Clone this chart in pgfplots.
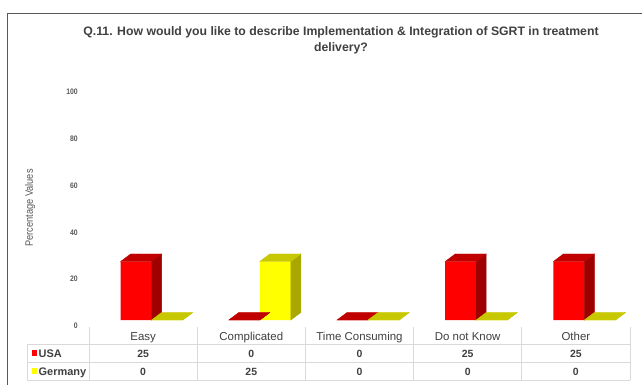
\documentclass[border=0pt]{standalone}
\usepackage{pgfplots}
\pgfplotsset{compat=1.18}
\usepackage{pgfplotstable}
\usepackage{fontspec}
\setmainfont{Liberation Sans}
\newfontfamily\narrowfont{Liberation Sans}[FakeStretch=0.86]
\definecolor{txt}{HTML}{404040}
\definecolor{axtxt}{HTML}{595959}
\definecolor{frontR}{HTML}{FF0000}
\definecolor{sideR}{HTML}{9E0000}
\definecolor{topR}{HTML}{C00000}
\definecolor{frontY}{HTML}{FFFF00}
\definecolor{sideY}{HTML}{A8A800}
\definecolor{topY}{HTML}{C8C800}
\definecolor{tbl}{HTML}{D9D9D9}
\definecolor{framec}{HTML}{595959}
\pgfplotstableread{
x usa germany
0 25 0
1 0 25
2 0 0
3 25 0
4 25 0
}\data
\pgfdeclareplotmark{blank}{}
\pgfplotsset{
  faces/.style n args={5}{% column, left, right, side colour, top colour
    scatter, only marks, mark=blank,
    visualization depends on={\thisrow{#1} \as \hval},
    scatter/@pre marker code/.code={%
      \pgfmathsetlengthmacro\hh{\hval*2.34bp}%
      \fill[#4] (#3bp,0pt) -- ++(10bp,7.5bp) -- ++(0pt,-\hh) -- ++(-10bp,-7.5bp) -- cycle;
      \fill[#5] (#2bp,0pt) -- (#3bp,0pt) -- ++(10bp,7.5bp) -- ++(-31bp,0pt) -- cycle;
    },
    scatter/@post marker code/.code={},
  },
}
\begin{document}
\begin{tikzpicture}
\useasboundingbox (0,0) rectangle (642bp,385bp);
\fill[white] (0,0) rectangle (642bp,385bp);
% frame
\draw[framec, line width=1.2bp] (7.5bp,0bp) -- (7.5bp,371.5bp) -- (642bp,371.5bp);
% title
\node[align=center, font=\bfseries\fontsize{12.3}{16}\selectfont, text=txt] at (341bp,345bp)
  {Q.11. How would you like to describe Implementation \& Integration of SGRT in treatment\\delivery?};
% y label
\node[rotate=90, font=\narrowfont\fontsize{10.8}{12}\selectfont, text=axtxt] at (30bp,177bp) {Percentage Values};
\begin{axis}[
  at={(89bp,65bp)}, anchor=south west,
  scale only axis, width=541bp, height=234bp,
  xmin=-0.5, xmax=4.5, ymin=0, ymax=100,
  axis line style={draw=none}, major tick length=0pt,
  xtick={0,...,4},
  xticklabels={Easy,Complicated,Time Consuming,Do not Know,Other},
  xticklabel style={anchor=base, yshift=-20.5bp, font=\fontsize{11.5}{13}\selectfont, text=txt},
  ytick={0,20,...,100},
  yticklabel style={anchor=east, inner sep=0pt, xshift=-11bp, yshift=-6bp,
    font=\narrowfont\bfseries\fontsize{8}{9}\selectfont, text=axtxt},
  /pgf/number format/assume math mode=true,
  clip=false,
]
\addplot[ybar, bar width=31bp, bar shift=-7bp, fill=frontR, draw=none] table[x=x, y=usa] {\data};
\addplot[faces={usa}{-22.5}{8.5}{sideR}{topR}] table[x=x, y=usa] {\data};
\addplot[ybar, bar width=31bp, bar shift=24bp, fill=frontY, draw=none] table[x=x, y=germany] {\data};
\addplot[faces={germany}{8.5}{39.5}{sideY}{topY}] table[x=x, y=germany] {\data};
\end{axis}
% data table
\begin{scope}[tbl, line width=0.8bp]
\draw (27bp,41bp) -- (630bp,41bp);
\draw (27bp,23bp) -- (630bp,23bp);
\draw (27bp,5bp) -- (630bp,5bp);
\draw (27bp,41bp) -- (27bp,5bp);
\foreach \k in {0,...,5} {
  \draw ({(89+108.2*\k)*1bp},58bp) -- ({(89+108.2*\k)*1bp},5bp);
}
\end{scope}
\fill[frontR] (31.5bp,29bp) rectangle (37bp,34.5bp);
\fill[frontY] (31.5bp,11bp) rectangle (37bp,16.5bp);
\node[anchor=base west, inner sep=0pt, font=\bfseries\fontsize{11}{13}\selectfont, text=txt] at (38.5bp,28bp) {USA};
\node[anchor=base west, inner sep=0pt, font=\bfseries\fontsize{11}{13}\selectfont, text=txt] at (38.5bp,10bp) {Germany};
\foreach \i in {0,...,4} {
  \pgfplotstablegetelem{\i}{usa}\of\data
  \node[anchor=base, inner sep=0pt, font=\bfseries\fontsize{10.5}{13}\selectfont, text=txt]
    at ({(143.1+108.2*\i)*1bp},28bp) {\pgfplotsretval};
  \pgfplotstablegetelem{\i}{germany}\of\data
  \node[anchor=base, inner sep=0pt, font=\bfseries\fontsize{10.5}{13}\selectfont, text=txt]
    at ({(143.1+108.2*\i)*1bp},10bp) {\pgfplotsretval};
}
\end{tikzpicture}
\end{document}
